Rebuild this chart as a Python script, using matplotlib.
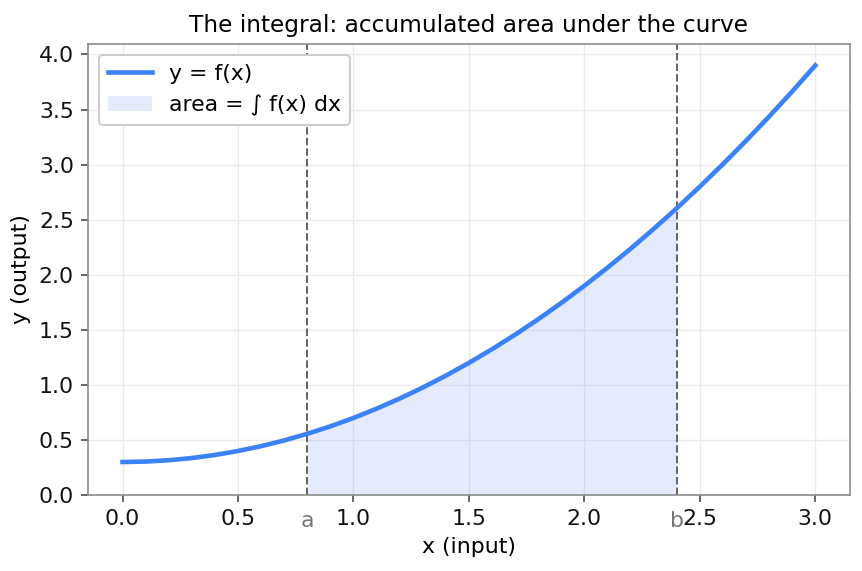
import matplotlib
matplotlib.use("Agg")
import matplotlib.pyplot as plt
import numpy as np

# curve samples
x_vals = [0.0, 0.1, 0.2, 0.3, 0.4, 0.5, 0.6, 0.7, 0.8, 0.9,
          1.0, 1.1, 1.2, 1.3, 1.4, 1.5, 1.6, 1.7, 1.8, 1.9,
          2.0, 2.1, 2.2, 2.3, 2.4, 2.5, 2.6, 2.7, 2.8, 2.9, 3.0]
y_vals = [0.300, 0.304, 0.316, 0.336, 0.364, 0.400, 0.444, 0.496, 0.556, 0.624,
          0.700, 0.784, 0.876, 0.976, 1.084, 1.200, 1.324, 1.456, 1.596, 1.744,
          1.900, 2.064, 2.236, 2.416, 2.604, 2.800, 3.004, 3.216, 3.436, 3.664, 3.900]

A_BOUND = 0.8
B_BOUND = 2.4

x = np.array(x_vals)
y = np.array(y_vals)

fig, ax = plt.subplots(figsize=(862 / 144, 571 / 144), dpi=144)
fig.subplots_adjust(left=0.102, right=0.986, top=0.923, bottom=0.133)

ax.plot(x, y, color="#3b82f6", lw=2.3, label="y = f(x)", zorder=3)
mask = (x >= A_BOUND - 1e-9) & (x <= B_BOUND + 1e-9)
ax.fill_between(x[mask], 0, y[mask], color="#8aa4f5", alpha=0.22, lw=0,
                label="area = \u222b f(x) dx", zorder=1)

for xb, name in [(A_BOUND, "a"), (B_BOUND, "b")]:
    ax.axvline(xb, color="#666666", ls="--", lw=1.0, zorder=2)
    ax.text(xb, -0.035, name, transform=ax.get_xaxis_transform(),
            ha="center", va="top", color="#777777", fontsize=11)

ax.set_ylim(bottom=0)
ax.grid(True, color="#ebebeb", lw=0.7)
ax.set_axisbelow(True)
for sp in ax.spines.values():
    sp.set_color("#888888")
ax.tick_params(colors="#444444", labelcolor="#111111", labelsize=11)

ax.set_xlabel("x (input)", fontsize=11)
ax.set_ylabel("y (output)", fontsize=11)
ax.set_title("The integral: accumulated area under the curve", fontsize=11.6)
ax.legend(loc="upper left", fontsize=11, framealpha=1, edgecolor="#cccccc")

fig.savefig("out.png", dpi=144)
